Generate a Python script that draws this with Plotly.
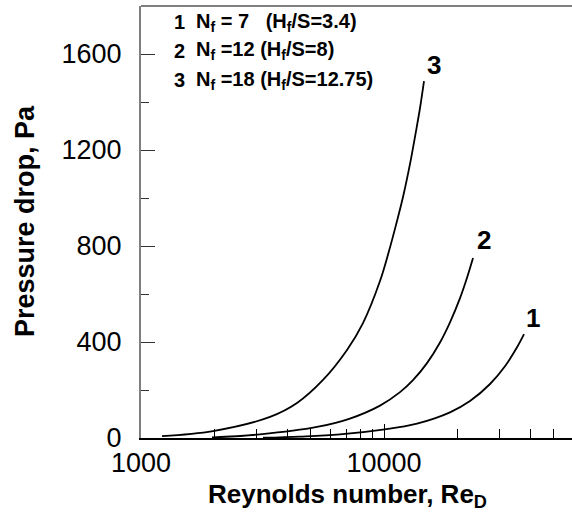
import numpy as np
import plotly.graph_objects as go

# ---- data ----
re_1 = [3177, 4510, 6590, 9900, 13670, 18690, 22590, 27310, 31470, 35270, 37680]
dp_1 = [1, 6, 15, 35, 60, 107, 154, 225, 299, 378, 433]

re_2 = [1960, 3090, 5300, 7240, 9630, 11640, 13160, 15030, 17000, 18690, 20550, 21960, 23250]
dp_2 = [2, 15, 46, 81, 135, 191, 241, 312, 398, 482, 583, 668, 750]

re_3 = [1220, 1978, 3396, 4385, 5610, 7043, 8195, 9628, 10485, 11205, 11973, 12795, 13545, 14068, 14610]
dp_3 = [8, 29, 88, 146, 242, 367, 479, 654, 779, 888, 1004, 1142, 1279, 1375, 1487]

curve_ids = ["1", "2", "3"]
legend_text = [
    "N<sub>f</sub> = 7\u00a0\u00a0 (H<sub>f</sub>/S=3.4)",
    "N<sub>f</sub> =12\u00a0(H<sub>f</sub>/S=8)",
    "N<sub>f</sub> =18\u00a0(H<sub>f</sub>/S=12.75)",
]

x_major = [1000, 10000]
x_major_text = ["1000", "10000"]
x_minor = [2000, 3000, 4000, 5000, 6000, 7000, 8000, 9000, 20000, 30000, 40000, 50000]
y_major = [0, 400, 800, 1200, 1600]
y_minor = [200, 600, 1000, 1400, 1800]

FONT = "Liberation Sans, Arial, sans-serif"

fig = go.Figure()
series = [(re_1, dp_1), (re_2, dp_2), (re_3, dp_3)]
for (xs, ys) in series:
    fig.add_trace(go.Scatter(x=xs, y=ys, mode="lines",
                             line=dict(color="black", width=1.8, shape="spline", smoothing=1.0),
                             showlegend=False, hoverinfo="skip"))

# curve number labels near the curve ends
offsets = [(9, 16), (11, 18), (10, 16)]
for cid, (xs, ys), (dx, dy) in zip(curve_ids, series, offsets):
    fig.add_annotation(x=np.log10(xs[-1]), y=ys[-1], xref="x", yref="y", text=f"<b>{cid}</b>",
                       showarrow=False, xshift=dx, yshift=dy,
                       font=dict(family=FONT, size=26, color="black"))

# legend text block
W, H = 431.0, 432.0
row_y = [22, 51, 80]
for cid, txt, ry in zip(curve_ids, legend_text, row_y):
    yp = (438 - ry) / H
    fig.add_annotation(x=(172 - 141) / W, y=yp, xref="paper", yref="paper", text=f"<b>{cid}</b>",
                       showarrow=False, xanchor="left", yanchor="middle",
                       font=dict(family=FONT, size=20, color="black"))
    fig.add_annotation(x=(194 - 141) / W, y=yp, xref="paper", yref="paper", text=f"<b>{txt}</b>",
                       showarrow=False, xanchor="left", yanchor="middle",
                       font=dict(family=FONT, size=20, color="black"))

# axis titles
fig.add_annotation(x=(25 - 141) / W, y=(438 - 221) / H, xref="paper", yref="paper",
                   text="<b>Pressure drop, Pa</b>", textangle=-90, showarrow=False,
                   xanchor="center", yanchor="middle",
                   font=dict(family=FONT, size=27, color="black"))
fig.add_annotation(x=(347 - 141) / W, y=(438 - 495) / H, xref="paper", yref="paper",
                   text="<b>Reynolds number, Re<sub>D</sub></b>", showarrow=False,
                   xanchor="center", yanchor="middle",
                   font=dict(family=FONT, size=26, color="black"))

# top frame line
fig.add_shape(type="line", xref="paper", yref="paper", x0=0, x1=1, y0=1, y1=1,
              line=dict(color="#7f7f7f", width=2))

fig.update_xaxes(type="log", range=[3, 3 + 431 / 243.0],
                 showgrid=False, zeroline=False,
                 showline=True, linecolor="black", linewidth=2,
                 ticks="inside", ticklen=14, tickwidth=1, tickcolor="black",
                 tickvals=x_major, ticktext=x_major_text,
                 tickfont=dict(family=FONT, size=27, color="black"),
                 ticklabelstandoff=0,
                 minor=dict(ticks="inside", ticklen=9, tickwidth=1, tickcolor="black",
                            tickvals=x_minor, showgrid=False))
fig.update_yaxes(range=[0, 1800], showgrid=False, zeroline=False,
                 showline=True, linecolor="#7f7f7f", linewidth=2,
                 ticks="inside", ticklen=14, tickwidth=1, tickcolor="#333333",
                 tickvals=y_major,
                 tickfont=dict(family=FONT, size=27, color="black"),
                 ticklabelstandoff=12,
                 minor=dict(ticks="inside", ticklen=8, tickwidth=1, tickcolor="#333333",
                            tickvals=y_minor, showgrid=False))

fig.update_layout(width=572, height=517,
                  margin=dict(l=141, r=0, t=6, b=79, autoexpand=False),
                  paper_bgcolor="white", plot_bgcolor="white",
                  font=dict(family=FONT, color="black"))

fig.write_html("out.html")
